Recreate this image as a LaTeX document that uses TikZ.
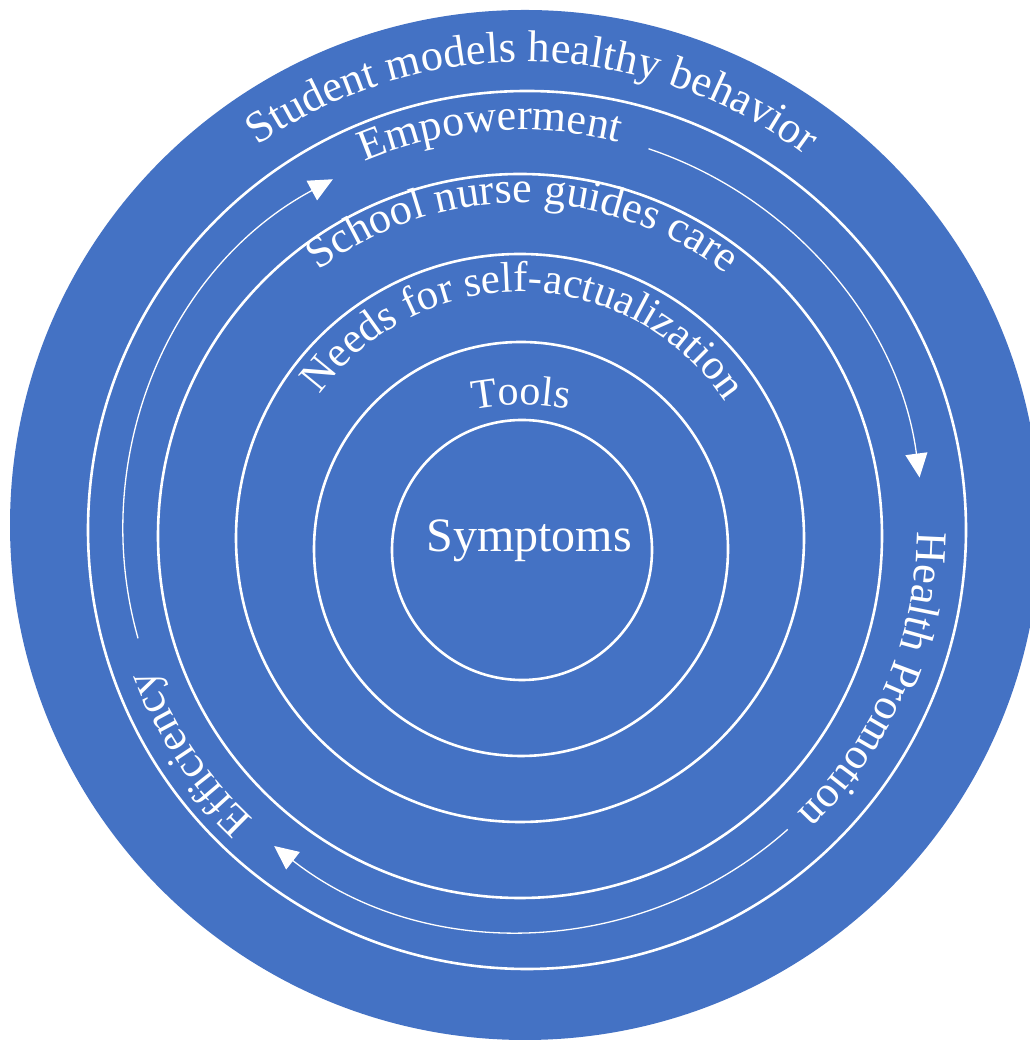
\documentclass[tikz,border=0pt]{standalone}
\usepackage{fontspec}
\setmainfont{Liberation Serif}
\usetikzlibrary{decorations.text,arrows.meta,calc}
\definecolor{bigblue}{HTML}{4472C4}
\newcommand\arcfont[1]{\color{white}\fontsize{#1pt}{#1pt}\selectfont}
% #1 centre, #2 radius, #3 start angle, #4 end angle, #5 size, #6 text
\newcommand\arctxt[6]{%
  \path[arctext={|\arcfont{#5}|#6}] ($(#1)+(#3:#2)$) arc[start angle=#3, end angle=#4, radius=#2];}
\begin{document}
\begin{tikzpicture}[x=1pt,y=1pt,
  ring/.style={circle, draw=white, line width=2.6pt, inner sep=0pt, outer sep=0pt},
  flow/.style={draw=white, line width=1.3pt, -{Triangle[length=24pt,width=22pt]}},
  arctext/.style={decorate, decoration={text along path, text align=center, text={#1}}}]
\useasboundingbox (0,0) rectangle (1029,1040);
% disc and rings
\node[circle, fill=bigblue, inner sep=0pt, outer sep=0pt, minimum size=1030pt] (disc) at (525,515) {};
\node[ring, minimum size=878pt] (rEmp) at (527,510) {};
\node[ring, minimum size=724pt] (rSch) at (520,504) {};
\node[ring, minimum size=568pt] (rNeed) at (520,502) {};
\node[ring, minimum size=414pt] (rTool) at (521,491) {};
\node[ring, minimum size=260pt] (rSym) at (522,490) {};
% centres for arc texts and arrows
\coordinate (cStu) at (525,510);
\coordinate (cArr) at (521,510);
\coordinate (cSch) at (520,504);
\coordinate (cNeed) at (520,502);
\coordinate (cTool) at (521,385);
% arc texts
\arctxt{cStu}{468}{150}{28}{44.5}{Student models healthy behavior}
\arctxt{cArr}{400}{150}{38.8}{44}{Empowerment}
\arctxt{cSch}{333}{160}{19}{44}{School nurse guides care}
\arctxt{cNeed}{246}{170}{8}{43}{Needs for self-actualization}
\arctxt{cTool}{250}{130}{50}{42}{Tools}
\arctxt{cArr}{396}{37}{-83}{44}{Health Promotion}
\arctxt{cArr}{394}{264}{164}{44}{Efficiency}
% centre label
\node[text=white, font=\fontsize{48pt}{52pt}\selectfont, anchor=base, inner sep=0pt] (sym) at (529,488) {Symptoms};
% arrows
\coordinate (a1s) at ($(cArr)+(71.5:402)$);
\coordinate (a2s) at ($(cArr)+(195.8:398)$);
\coordinate (a3s) at ($(cArr)+(-48.3:401)$);
\draw[flow] (a1s) arc[start angle=71.5, end angle=7.5, radius=402];
\draw[flow] (a2s) arc[start angle=195.8, end angle=118.2, radius=398];
\draw[flow] (a3s) arc[start angle=-48.3, end angle=-128, radius=401];
\end{tikzpicture}
\end{document}
